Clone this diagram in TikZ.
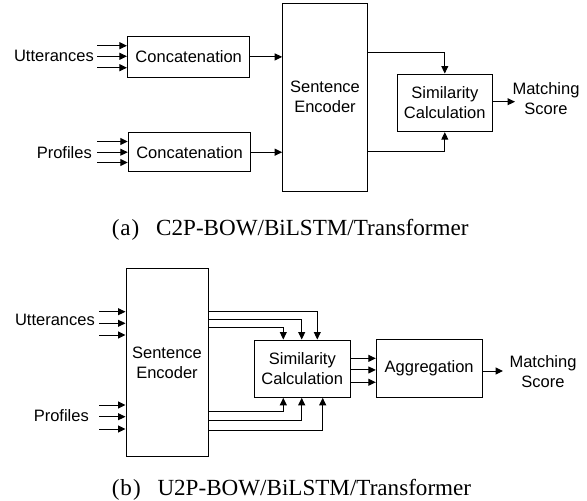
\documentclass[tikz,border=0pt]{standalone}
\usepackage{fontspec}
\setmainfont{Liberation Sans}
\newfontfamily\capfont{Liberation Serif}
\usetikzlibrary{arrows.meta}
\begin{document}
\begin{tikzpicture}[x=1pt,y=-1pt,
  box/.style={draw, line width=1pt, inner sep=0pt, align=center, font=\fontsize{16.5}{20}\selectfont},
  lbl/.style={inner sep=0pt, align=center, font=\fontsize{16.5}{20}\selectfont},
  captxt/.style={anchor=base west, inner sep=0pt, font=\capfont\fontsize{23.1}{26}\selectfont},
  arr/.style={line width=1pt, -{Triangle[length=7.5pt,width=7pt]}},
  ln/.style={line width=1pt}]
\useasboundingbox (0,0) rectangle (587,501);

% ---------------- (a) ----------------
\node[box, minimum width=122.5pt, minimum height=41.5pt] (c1) at (188.7,56.9) {Concatenation};
\node[box, minimum width=122.5pt, minimum height=39pt] (c2) at (189.5,152.2) {Concatenation};
\node[box, minimum width=84.6pt, minimum height=187.7pt] (enc1) at (325,97.2) {Sentence\\Encoder};
\node[box, minimum width=95pt, minimum height=57.7pt] (sim1) at (444.8,102.85) {Similarity\\Calculation};
\node[lbl, anchor=east] (utt1) at (94,55.5) {Utterances};
\node[lbl, anchor=east] (pro1) at (92,152.5) {Profiles};
\node[lbl] (ms1) at (546,98.3) {Matching\\Score};

\coordinate (ua1) at (97,45.7);
\coordinate (ua2) at (97,56.3);
\coordinate (ua3) at (97,67.7);
\coordinate (pa1) at (97,141.5);
\coordinate (pa2) at (97,152.2);
\coordinate (pa3) at (97,162.5);
\foreach \c in {ua1,ua2,ua3} \draw[arr] (\c) -- (\c -| c1.west);
\foreach \c in {pa1,pa2,pa3} \draw[arr] (\c) -- (\c -| c2.west);
\draw[arr] (c1.east) -- (c1.east -| enc1.west);
\draw[arr] (c2.east) -- (c2.east -| enc1.west);
\coordinate (e1o1) at ([yshift=-50pt]enc1.north east);
\coordinate (e1o2) at ([yshift=-149pt]enc1.north east);
\draw[arr] (e1o1) -| (sim1.north);
\draw[arr] (e1o2) -| (sim1.south);
\coordinate (s1out) at (515,101.7);
\draw[arr] (sim1.east |- s1out) -- (s1out);

\node[captxt] (capa) at (111.6,235) {(\kern1pt a\kern1pt)\hspace{16.8pt}C2P-BOW/BiLSTM/Transformer};

% ---------------- (b) ----------------
\node[box, minimum width=82pt, minimum height=187.3pt] (enc2) at (167,362.35) {Sentence\\Encoder};
\node[box, minimum width=96pt, minimum height=57.3pt] (sim2) at (302.3,368.65) {Similarity\\Calculation};
\node[box, minimum width=105.7pt, minimum height=58pt] (agg) at (429.15,368.3) {Aggregation};
\node[lbl, anchor=east] (utt2) at (95,320) {Utterances};
\node[lbl, anchor=east] (pro2) at (89,416) {Profiles};
\node[lbl] (ms2) at (543,371.3) {Matching\\Score};

\coordinate (ub1) at (99,311.7);
\coordinate (ub2) at (99,323.3);
\coordinate (ub3) at (99,335);
\coordinate (pb1) at (99,405);
\coordinate (pb2) at (99,416.7);
\coordinate (pb3) at (99,429);
\foreach \c in {ub1,ub2,ub3,pb1,pb2,pb3} \draw[arr] (\c) -- (\c -| enc2.west);

% encoder -> similarity (top)
\coordinate (et1) at ([yshift=-43.6pt]enc2.north east);
\coordinate (et2) at ([yshift=-51.3pt]enc2.north east);
\coordinate (et3) at ([yshift=-59.6pt]enc2.north east);
\coordinate (st1) at ([xshift=15pt]sim2.north);
\coordinate (st2) at ([xshift=-0.6pt]sim2.north);
\coordinate (st3) at ([xshift=-19pt]sim2.north);
\draw[arr] (et1) -| (st1);
\draw[arr] (et2) -| (st2);
\draw[arr] (et3) -| (st3);
% encoder -> similarity (bottom)
\coordinate (eb1) at ([yshift=45.3pt]enc2.south east);
\coordinate (eb2) at ([yshift=36pt]enc2.south east);
\coordinate (eb3) at ([yshift=26pt]enc2.south east);
\coordinate (sb1) at ([xshift=-19pt]sim2.south);
\coordinate (sb2) at ([xshift=-0.6pt]sim2.south);
\coordinate (sb3) at ([xshift=20.4pt]sim2.south);
\draw[arr] (eb1) -| (sb1);
\draw[arr] (eb2) -| (sb2);
\draw[arr] (eb3) -| (sb3);
% similarity -> aggregation
\coordinate (so1) at ([yshift=10.3pt]sim2.east);
\coordinate (so2) at ([yshift=-1.3pt]sim2.east);
\coordinate (so3) at ([yshift=-13.6pt]sim2.east);
\foreach \c in {so1,so2,so3} \draw[arr] (\c) -- (\c -| agg.west);
\coordinate (aout) at (503,371);
\draw[arr] (agg.east |- aout) -- (aout);

\node[captxt] (capb) at (111.6,495) {(\kern1pt b\kern1pt)\hspace{16.8pt}U2P-BOW/BiLSTM/Transformer};
\end{tikzpicture}
\end{document}
